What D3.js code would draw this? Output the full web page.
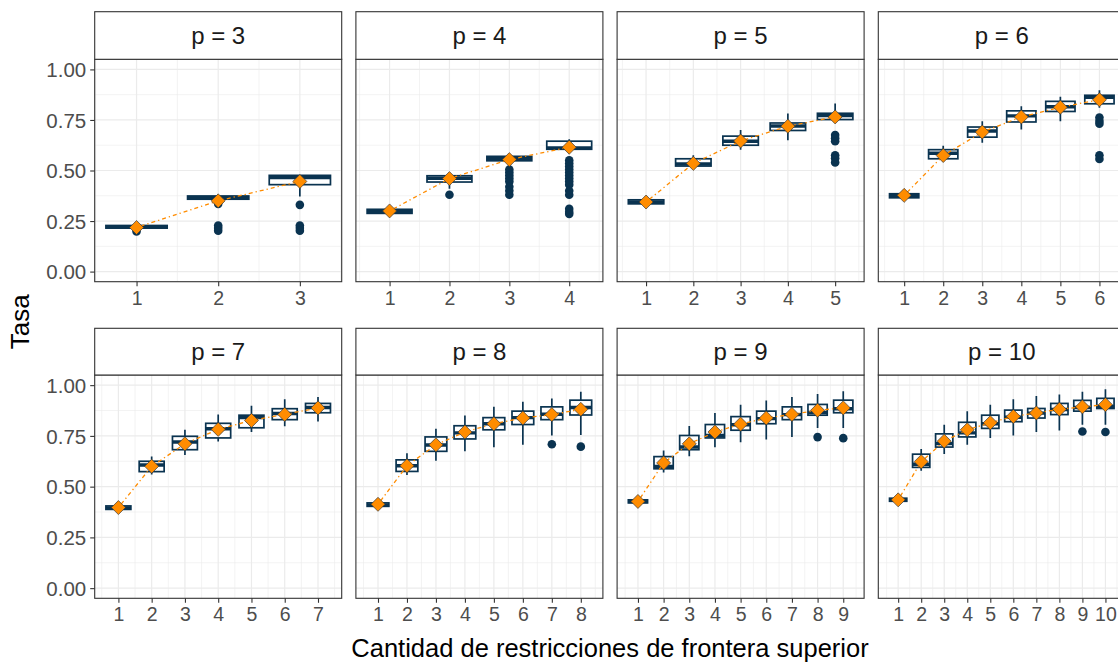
<!DOCTYPE html>
<html>
<head>
<meta charset="utf-8">
<script src="https://cdn.jsdelivr.net/npm/d3@7"></script>
<style>
  body { margin: 0; background: #fff; }
  svg { display: block; }
  text { font-family: "Liberation Sans", Arial, sans-serif; }
</style>
</head>
<body>
<svg id="chart" width="1118" height="664"></svg>
<script>
// Facets: number of parameters p; each facet has categories 1..p
const facets = [3, 4, 5, 6, 7, 8, 9, 10];
const yTicks = [0, 0.25, 0.5, 0.75, 1];
const yTickLabels = ["0.00", "0.25", "0.50", "0.75", "1.00"];
const yMinor = [0.125, 0.375, 0.625, 0.875];
const xTitle = "Cantidad de restricciones de frontera superior";
const yTitle = "Tasa";

// Box statistics, one row per facet, one value per category
const q1 = [
  [0.215, 0.358, 0.43],
  [0.288, 0.443, 0.548, 0.605],
  [0.335, 0.522, 0.625, 0.698, 0.752],
  [0.365, 0.558, 0.665, 0.74, 0.792, 0.83],
  [0.388, 0.574, 0.682, 0.74, 0.79, 0.83, 0.864],
  [0.403, 0.575, 0.674, 0.735, 0.78, 0.806, 0.83, 0.853],
  [0.42, 0.588, 0.682, 0.74, 0.778, 0.81, 0.83, 0.852, 0.864],
  [0.428, 0.595, 0.695, 0.745, 0.787, 0.82, 0.838, 0.855, 0.872, 0.885]
];
const median = [
  [0.222, 0.366, 0.465],
  [0.296, 0.462, 0.558, 0.612],
  [0.345, 0.532, 0.645, 0.72, 0.772],
  [0.375, 0.585, 0.695, 0.77, 0.815, 0.862],
  [0.395, 0.607, 0.72, 0.785, 0.84, 0.86, 0.89],
  [0.41, 0.603, 0.705, 0.765, 0.81, 0.84, 0.857, 0.89],
  [0.426, 0.6, 0.695, 0.752, 0.805, 0.835, 0.855, 0.865, 0.884],
  [0.435, 0.61, 0.712, 0.765, 0.81, 0.842, 0.862, 0.88, 0.89, 0.895]
];
const q3 = [
  [0.228, 0.374, 0.476],
  [0.308, 0.474, 0.57, 0.645],
  [0.355, 0.558, 0.67, 0.735, 0.783],
  [0.385, 0.603, 0.715, 0.795, 0.842, 0.872],
  [0.405, 0.625, 0.748, 0.812, 0.852, 0.884, 0.91],
  [0.42, 0.632, 0.745, 0.8, 0.84, 0.872, 0.893, 0.926],
  [0.435, 0.648, 0.752, 0.806, 0.845, 0.872, 0.893, 0.905, 0.926],
  [0.443, 0.66, 0.76, 0.817, 0.852, 0.877, 0.885, 0.91, 0.925, 0.935]
];
const whiskerLow = [
  [0.208, 0.345, 0.372],
  [0.283, 0.41, 0.535, 0.6],
  [0.33, 0.512, 0.603, 0.65, 0.745],
  [0.358, 0.545, 0.637, 0.703, 0.744, 0.81],
  [0.383, 0.56, 0.656, 0.722, 0.769, 0.798, 0.821],
  [0.398, 0.557, 0.628, 0.675, 0.694, 0.706, 0.752, 0.755],
  [0.415, 0.57, 0.65, 0.694, 0.719, 0.732, 0.744, 0.789, 0.789],
  [0.423, 0.578, 0.661, 0.707, 0.74, 0.752, 0.769, 0.777, 0.805, 0.805]
];
const whiskerHigh = [
  [0.232, 0.38, 0.478],
  [0.312, 0.478, 0.575, 0.655],
  [0.36, 0.575, 0.7, 0.782, 0.831],
  [0.395, 0.623, 0.744, 0.818, 0.865, 0.897],
  [0.41, 0.648, 0.78, 0.856, 0.898, 0.93, 0.942],
  [0.425, 0.665, 0.785, 0.851, 0.893, 0.918, 0.934, 0.967],
  [0.44, 0.678, 0.799, 0.863, 0.904, 0.924, 0.942, 0.957, 0.97],
  [0.448, 0.686, 0.805, 0.871, 0.904, 0.93, 0.947, 0.954, 0.967, 0.98]
];
// Mean rate per category (orange diamonds)
const means = [
  [0.218, 0.35, 0.446],
  [0.3, 0.46, 0.554, 0.615],
  [0.344, 0.535, 0.646, 0.719, 0.765],
  [0.377, 0.574, 0.69, 0.765, 0.813, 0.85],
  [0.397, 0.6, 0.711, 0.782, 0.826, 0.856, 0.888],
  [0.413, 0.603, 0.706, 0.769, 0.81, 0.838, 0.855, 0.881],
  [0.427, 0.617, 0.711, 0.769, 0.808, 0.838, 0.856, 0.876, 0.888],
  [0.435, 0.623, 0.724, 0.78, 0.815, 0.846, 0.863, 0.881, 0.893, 0.904]
];
// Outlying values per category
const outliers = [
  [[0.198], [0.335, 0.228, 0.215, 0.202], [0.33, 0.228, 0.215, 0.202]],
  [[], [0.38], [0.505, 0.49, 0.475, 0.46, 0.445, 0.42, 0.4, 0.38],
   [0.55, 0.535, 0.52, 0.505, 0.49, 0.475, 0.46, 0.445, 0.43, 0.4, 0.38, 0.31, 0.295, 0.285]],
  [[], [], [], [], [0.675, 0.66, 0.645, 0.575, 0.56, 0.54]],
  [[], [], [], [], [], [0.762, 0.745, 0.731, 0.575, 0.557]],
  [[], [], [], [], [], [], []],
  [[], [], [], [], [], [], [0.709], [0.697]],
  [[], [], [], [], [], [], [], [0.744], [0.739]],
  [[], [], [], [], [], [], [], [], [0.772], [0.769]]
];

// ---- layout ----
const boxColor = "#0a3350";
const meanColor = "#ff8c00";
const panelW = 247, colStep = 261.2, firstLeft = 94.7;
const rows = [
  { stripTop: 11.7, top: 59.3, bottom: 281.7 },
  { stripTop: 328.3, top: 375, bottom: 598.3 }
];
const boxWidth = 0.75;

const svg = d3.select("#chart");
const defs = svg.append("defs");

facets.forEach((p, i) => {
  const row = rows[Math.floor(i / 4)];
  const col = i % 4;
  const left = firstLeft + col * colStep;
  const right = left + panelW;
  const cats = d3.range(1, p + 1);

  // continuous x with 5% expansion around the box extents
  const lo = 1 - boxWidth / 2, hi = p + boxWidth / 2;
  const pad = (hi - lo) * 0.05;
  const x = d3.scaleLinear().domain([lo - pad, hi + pad]).range([left, right]);
  const y = d3.scaleLinear().domain([-0.05, 1.05]).range([row.bottom, row.top]);

  const clipId = "clip" + i;
  defs.append("clipPath").attr("id", clipId)
    .append("rect").attr("x", left).attr("y", row.top)
    .attr("width", panelW).attr("height", row.bottom - row.top);

  const g = svg.append("g");
  const plot = g.append("g").attr("clip-path", `url(#${clipId})`);

  plot.append("rect").attr("x", left).attr("y", row.top)
    .attr("width", panelW).attr("height", row.bottom - row.top).attr("fill", "#fff");

  // minor grid
  const xMinor = d3.range(0, p + 1).map(v => v + 0.5)
    .filter(v => v >= x.domain()[0] && v <= x.domain()[1]);
  plot.selectAll(".ymin").data(yMinor).join("line")
    .attr("x1", left).attr("x2", right)
    .attr("y1", d => y(d)).attr("y2", d => y(d))
    .attr("stroke", "#ebebeb").attr("stroke-width", 0.6);
  plot.selectAll(".xmin").data(xMinor).join("line")
    .attr("y1", row.top).attr("y2", row.bottom)
    .attr("x1", d => x(d)).attr("x2", d => x(d))
    .attr("stroke", "#ebebeb").attr("stroke-width", 0.6);
  // major grid
  plot.selectAll(".ymaj").data(yTicks).join("line")
    .attr("x1", left).attr("x2", right)
    .attr("y1", d => y(d)).attr("y2", d => y(d))
    .attr("stroke", "#ebebeb").attr("stroke-width", 1.2);
  plot.selectAll(".xmaj").data(cats).join("line")
    .attr("y1", row.top).attr("y2", row.bottom)
    .attr("x1", d => x(d)).attr("x2", d => x(d))
    .attr("stroke", "#ebebeb").attr("stroke-width", 1.2);

  // box plots
  const halfW = (x(1 + boxWidth / 2) - x(1 - boxWidth / 2)) / 2;
  const boxes = plot.append("g");
  cats.forEach((c, k) => {
    const cx = x(c);
    const bg = boxes.append("g");
    bg.append("line").attr("x1", cx).attr("x2", cx)
      .attr("y1", y(q3[i][k])).attr("y2", y(whiskerHigh[i][k]))
      .attr("stroke", boxColor).attr("stroke-width", 1.7);
    bg.append("line").attr("x1", cx).attr("x2", cx)
      .attr("y1", y(q1[i][k])).attr("y2", y(whiskerLow[i][k]))
      .attr("stroke", boxColor).attr("stroke-width", 1.7);
    bg.append("rect")
      .attr("x", cx - halfW).attr("width", halfW * 2)
      .attr("y", y(q3[i][k])).attr("height", y(q1[i][k]) - y(q3[i][k]))
      .attr("fill", "#fff").attr("stroke", boxColor).attr("stroke-width", 1.7);
    bg.append("line").attr("x1", cx - halfW).attr("x2", cx + halfW)
      .attr("y1", y(median[i][k])).attr("y2", y(median[i][k]))
      .attr("stroke", boxColor).attr("stroke-width", 3.4);
    bg.selectAll("circle").data(outliers[i][k]).join("circle")
      .attr("cx", cx).attr("cy", d => y(d)).attr("r", 4.3)
      .attr("fill", boxColor);
  });

  // mean trend line
  const line = d3.line().x((d, k) => x(cats[k])).y(d => y(d));
  plot.append("path").datum(means[i]).attr("d", line)
    .attr("fill", "none").attr("stroke", meanColor).attr("stroke-width", 1.3)
    .attr("stroke-dasharray", "1.3,3,4,3");

  // mean diamonds
  const sym = d3.symbol().type(d3.symbolDiamond2).size(125);
  plot.selectAll(".mean").data(means[i]).join("path")
    .attr("d", sym)
    .attr("transform", (d, k) => `translate(${x(cats[k])},${y(d)})`)
    .attr("fill", meanColor).attr("stroke", "#3a3a3a").attr("stroke-width", 0.7);

  // panel border
  g.append("rect").attr("x", left).attr("y", row.top)
    .attr("width", panelW).attr("height", row.bottom - row.top)
    .attr("fill", "none").attr("stroke", "#333").attr("stroke-width", 1.1);

  // strip
  g.append("rect").attr("x", left).attr("y", row.stripTop)
    .attr("width", panelW).attr("height", row.top - row.stripTop)
    .attr("fill", "#fff").attr("stroke", "#333").attr("stroke-width", 1.1);
  g.append("text").attr("x", (left + right) / 2)
    .attr("y", (row.stripTop + row.top) / 2 + 8.5)
    .attr("text-anchor", "middle").attr("font-size", 24).attr("fill", "#1a1a1a")
    .text(`p = ${p}`);

  // x axis
  const xAxis = d3.axisBottom(x).tickValues(cats).tickFormat(d3.format("d"))
    .tickSize(4.5).tickPadding(4.5);
  const xa = g.append("g").attr("transform", `translate(0,${row.bottom})`).call(xAxis);
  xa.select(".domain").remove();
  xa.selectAll(".tick line").attr("stroke", "#333").attr("stroke-width", 1.1);
  xa.selectAll(".tick text").attr("font-size", 19.5).attr("fill", "#4d4d4d")
    .attr("font-family", null).attr("dy", "0.72em");

  // y axis on first column only
  if (col === 0) {
    const yAxis = d3.axisLeft(y).tickValues(yTicks)
      .tickFormat((d, k) => yTickLabels[k]).tickSize(4.5).tickPadding(4);
    const ya = g.append("g").attr("transform", `translate(${left},0)`).call(yAxis);
    ya.select(".domain").remove();
    ya.selectAll(".tick line").attr("stroke", "#333").attr("stroke-width", 1.1);
    ya.selectAll(".tick text").attr("font-size", 20.5).attr("fill", "#4d4d4d")
      .attr("font-family", null).attr("dy", "0.35em");
  }
});

// axis titles
const totalLeft = firstLeft, totalRight = firstLeft + 3 * colStep + panelW;
svg.append("text").attr("x", (totalLeft + totalRight) / 2).attr("y", 656.5)
  .attr("text-anchor", "middle").attr("font-size", 25.5).attr("fill", "#000")
  .text(xTitle);
svg.append("text")
  .attr("transform", `translate(29,${(rows[0].stripTop + 632) / 2}) rotate(-90)`)
  .attr("text-anchor", "middle").attr("font-size", 26).attr("fill", "#000")
  .text(yTitle);
</script>
</body>
</html>
